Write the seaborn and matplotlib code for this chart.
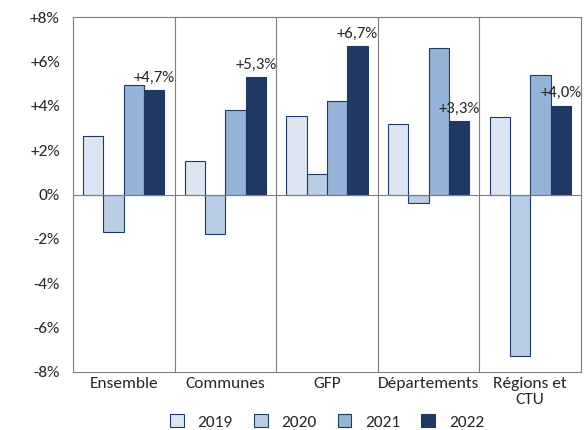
import matplotlib
matplotlib.use("Agg")
import matplotlib.pyplot as plt
import pandas as pd
import seaborn as sns

groups = ['Ensemble', 'Communes', 'GFP', 'Départements', 'Régions et\nCTU']
years = ['2019', '2020', '2021', '2022']
v2019 = [2.65, 1.5, 3.55, 3.2, 3.5]
v2020 = [-1.7, -1.8, 0.95, -0.4, -7.3]
v2021 = [4.95, 3.8, 4.2, 6.6, 5.4]
v2022 = [4.7, 5.3, 6.7, 3.3, 4.0]
labels_2022 = ['+4,7%', '+5,3%', '+6,7%', '+3,3%', '+4,0%']

rows = []
for y, vals in zip(years, [v2019, v2020, v2021, v2022]):
    for g, v in zip(groups, vals):
        rows.append({'groupe': g, 'annee': y, 'val': v})
df = pd.DataFrame(rows)

sns.set_theme(style='white')
plt.rcParams['font.family'] = ['Carlito', 'DejaVu Sans']
fig, ax = plt.subplots(figsize=(5.84, 4.30), dpi=100)
colors = ['#dce6f2', '#b9cde5', '#95b3d7', '#1f3864']
sns.barplot(data=df, x='groupe', y='val', hue='annee', palette=colors,
            edgecolor='#1f3864', linewidth=0.8, width=0.8, ax=ax, saturation=1)

ax.set_ylim(-8, 8)
ax.set_xlim(-0.5, 4.5)
ax.set_yticks(range(-8, 9, 2))
ax.set_yticklabels([('+' if t > 0 else '') + f'{t}%' for t in range(-8, 9, 2)], fontsize=12.5)
ax.tick_params(axis='x', labelsize=12.5, length=0)
ax.set_xlabel('')
ax.set_ylabel('')
ax.axhline(0, color='#7f7f7f', linewidth=0.8)
for x in [0.5, 1.5, 2.5, 3.5]:
    ax.axvline(x, color='#7f7f7f', linewidth=0.8)
for s in ax.spines.values():
    s.set_color('#7f7f7f')
    s.set_linewidth(0.8)

bars = ax.containers[3]
for b, lab in zip(bars, labels_2022):
    ax.text(b.get_x() + b.get_width() / 2, b.get_height() + 0.25, lab,
            ha='center', va='bottom', fontsize=12)

ax.legend(loc='upper center', bbox_to_anchor=(0.5, -0.075), ncol=4, frameon=False,
          fontsize=12.5, handlelength=0.8, handleheight=0.8, columnspacing=1.2)
fig.subplots_adjust(left=0.125, right=0.995, top=0.96, bottom=0.135)
fig.savefig('out.png')
